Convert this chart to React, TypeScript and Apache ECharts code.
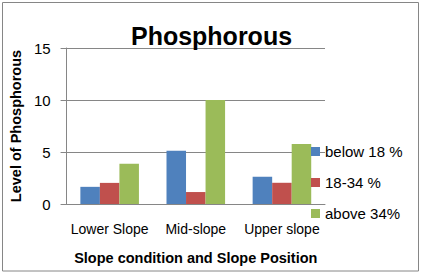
import React, { useEffect, useRef } from "react";
import * as echarts from "echarts";

const categories = ["Lower Slope", "Mid-slope", "Upper slope"];
const seriesNames = ["below 18 %", "18-34 %", "above 34%"];
const below18 = [1.65, 5.12, 2.62];
const mid1834 = [2.03, 1.15, 2.04];
const above34 = [3.87, 10.0, 5.78];
const colors = ["#4F81BD", "#C0504D", "#9BBB59"];

const FONT = "Liberation Sans";

export default function App() {
  const ref = useRef<HTMLDivElement>(null);
  useEffect(() => {
    document.body.style.margin = "0";
    const chart = echarts.init(ref.current!, null, { renderer: "svg" });
    const values = [below18, mid1834, above34];
    chart.setOption({
      animation: false,
      textStyle: { fontFamily: FONT },
      title: {
        text: "Phosphorous",
        left: "center",
        top: 18,
        textStyle: { fontFamily: FONT, fontSize: 25, fontWeight: "bold", color: "#000" },
      },
      graphic: [
        {
          type: "rect",
          shape: { x: 2.5, y: 2.5, width: 416, height: 268.5 },
          style: { fill: "none", stroke: "#868686", lineWidth: 1 },
          silent: true,
        },
      ],
      legend: {
        orient: "vertical",
        left: 306,
        top: 139,
        itemWidth: 9,
        itemHeight: 9,
        itemGap: 16,
        icon: "rect",
        textStyle: { fontFamily: FONT, fontSize: 15, color: "#000" },
        data: seriesNames,
      },
      grid: { left: 62, right: 98, top: 48, bottom: 72 },
      xAxis: {
        type: "category",
        data: categories,
        axisLine: { show: true, lineStyle: { color: "#868686", width: 1 } },
        axisTick: { show: false },
        axisLabel: { fontFamily: FONT, fontSize: 14, color: "#000", margin: 18, interval: 0 },
        name: "Slope condition and Slope Position",
        nameLocation: "middle",
        nameGap: 46,
        nameTextStyle: { fontFamily: FONT, fontSize: 14.5, fontWeight: "bold", color: "#000" },
      },
      yAxis: {
        type: "value",
        min: 0,
        max: 15,
        interval: 5,
        axisLine: { show: true, lineStyle: { color: "#868686", width: 1 } },
        axisTick: { show: true, inside: false, length: 6, lineStyle: { color: "#868686" } },
        splitLine: { show: true, lineStyle: { color: "#868686", width: 1 } },
        axisLabel: { fontFamily: FONT, fontSize: 15, color: "#000", margin: 16 },
        name: "Level of Phosphorous",
        nameLocation: "middle",
        nameGap: 37,
        nameTextStyle: { fontFamily: FONT, fontSize: 14.5, fontWeight: "bold", color: "#000" },
      },
      series: seriesNames.map((name, i) => ({
        name,
        type: "bar",
        data: values[i],
        itemStyle: { color: colors[i] },
        barGap: "0%",
        barCategoryGap: "32%",
      })),
    });
    return () => chart.dispose();
  }, []);
  return <div ref={ref} style={{ width: 423, height: 276 }} />;
}
